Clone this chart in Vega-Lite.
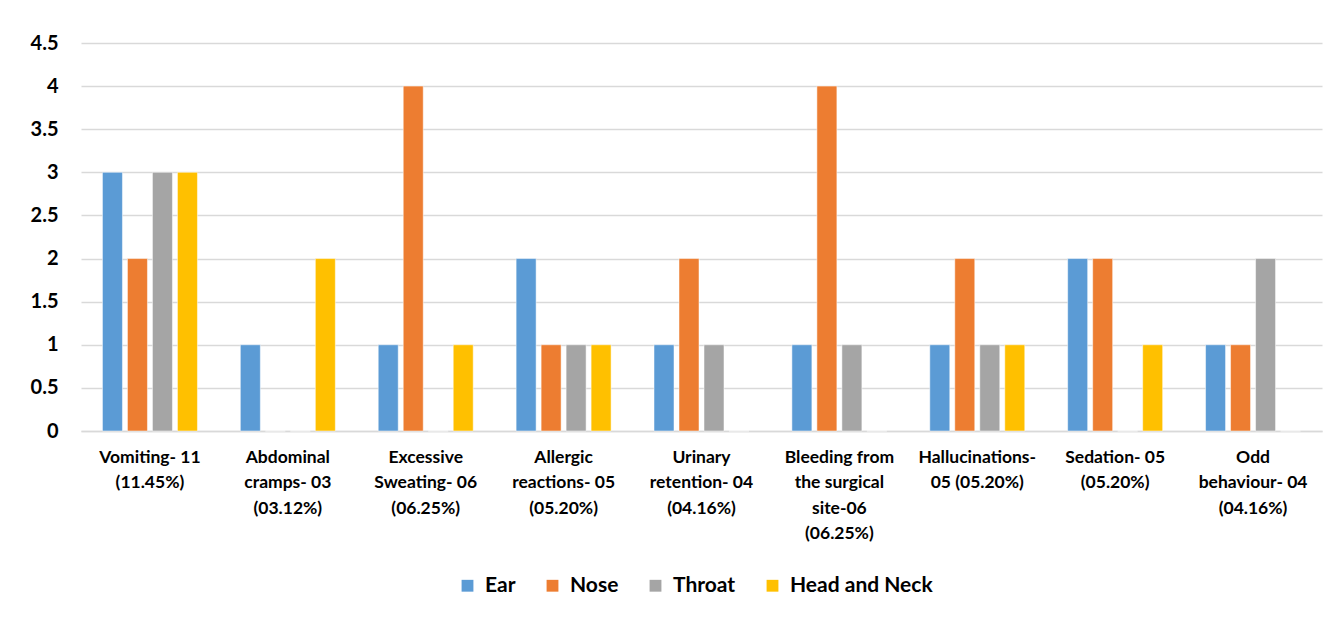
{
  "$schema": "https://vega.github.io/schema/vega-lite/v6.json",
  "autosize": "none",
  "width": 1241,
  "height": 388,
  "padding": {"left": 81, "top": 43, "right": 17, "bottom": 196},
  "background": "white",
  "data": {"values": [
    {"cat": "Vomiting- 11|(11.45%)", "part": "Ear", "n": 3},
    {"cat": "Vomiting- 11|(11.45%)", "part": "Nose", "n": 2},
    {"cat": "Vomiting- 11|(11.45%)", "part": "Throat", "n": 3},
    {"cat": "Vomiting- 11|(11.45%)", "part": "Head and Neck", "n": 3},
    {"cat": "Abdominal|cramps- 03|(03.12%)", "part": "Ear", "n": 1},
    {"cat": "Abdominal|cramps- 03|(03.12%)", "part": "Nose", "n": 0},
    {"cat": "Abdominal|cramps- 03|(03.12%)", "part": "Throat", "n": 0},
    {"cat": "Abdominal|cramps- 03|(03.12%)", "part": "Head and Neck", "n": 2},
    {"cat": "Excessive|Sweating- 06|(06.25%)", "part": "Ear", "n": 1},
    {"cat": "Excessive|Sweating- 06|(06.25%)", "part": "Nose", "n": 4},
    {"cat": "Excessive|Sweating- 06|(06.25%)", "part": "Throat", "n": 0},
    {"cat": "Excessive|Sweating- 06|(06.25%)", "part": "Head and Neck", "n": 1},
    {"cat": "Allergic|reactions- 05|(05.20%)", "part": "Ear", "n": 2},
    {"cat": "Allergic|reactions- 05|(05.20%)", "part": "Nose", "n": 1},
    {"cat": "Allergic|reactions- 05|(05.20%)", "part": "Throat", "n": 1},
    {"cat": "Allergic|reactions- 05|(05.20%)", "part": "Head and Neck", "n": 1},
    {"cat": "Urinary|retention- 04|(04.16%)", "part": "Ear", "n": 1},
    {"cat": "Urinary|retention- 04|(04.16%)", "part": "Nose", "n": 2},
    {"cat": "Urinary|retention- 04|(04.16%)", "part": "Throat", "n": 1},
    {"cat": "Urinary|retention- 04|(04.16%)", "part": "Head and Neck", "n": 0},
    {"cat": "Bleeding from|the surgical|site-06|(06.25%)", "part": "Ear", "n": 1},
    {"cat": "Bleeding from|the surgical|site-06|(06.25%)", "part": "Nose", "n": 4},
    {"cat": "Bleeding from|the surgical|site-06|(06.25%)", "part": "Throat", "n": 1},
    {"cat": "Bleeding from|the surgical|site-06|(06.25%)", "part": "Head and Neck", "n": 0},
    {"cat": "Hallucinations-|05 (05.20%)", "part": "Ear", "n": 1},
    {"cat": "Hallucinations-|05 (05.20%)", "part": "Nose", "n": 2},
    {"cat": "Hallucinations-|05 (05.20%)", "part": "Throat", "n": 1},
    {"cat": "Hallucinations-|05 (05.20%)", "part": "Head and Neck", "n": 1},
    {"cat": "Sedation- 05|(05.20%)", "part": "Ear", "n": 2},
    {"cat": "Sedation- 05|(05.20%)", "part": "Nose", "n": 2},
    {"cat": "Sedation- 05|(05.20%)", "part": "Throat", "n": 0},
    {"cat": "Sedation- 05|(05.20%)", "part": "Head and Neck", "n": 1},
    {"cat": "Odd|behaviour- 04|(04.16%)", "part": "Ear", "n": 1},
    {"cat": "Odd|behaviour- 04|(04.16%)", "part": "Nose", "n": 1},
    {"cat": "Odd|behaviour- 04|(04.16%)", "part": "Throat", "n": 2},
    {"cat": "Odd|behaviour- 04|(04.16%)", "part": "Head and Neck", "n": 0}
  ]},
  "mark": {"type": "bar", "stroke": "white", "strokeWidth": 0.5},
  "encoding": {
    "x": {
      "field": "cat", "type": "nominal", "sort": null, "title": null,
      "scale": {"paddingInner": 0, "paddingOuter": 0},
      "axis": {
        "labelExpr": "split(datum.label, '|')",
        "labelAngle": 0, "labelBaseline": "top", "labelPadding": 17,
        "labelLineHeight": 25.5, "labelFontSize": 17.5, "labelFont": "Lato",
        "labelFontWeight": "bold", "labelColor": "#000000", "labelLimit": 200,
        "ticks": false, "domainColor": "#d9d9d9", "domainWidth": 1.5, "grid": false
      }
    },
    "xOffset": {
      "field": "part", "type": "nominal",
      "sort": ["Ear", "Nose", "Throat", "Head and Neck"],
      "scale": {"paddingInner": 0.2, "paddingOuter": 0.858}
    },
    "y": {
      "field": "n", "type": "quantitative", "title": null,
      "scale": {"domain": [0, 4.5], "nice": false},
      "axis": {
        "values": [0, 0.5, 1, 1.5, 2, 2.5, 3, 3.5, 4, 4.5],
        "labelExpr": "datum.value",
        "labelFontSize": 20, "labelFont": "Lato", "labelFontWeight": "bold",
        "labelColor": "#000000", "labelPadding": 23,
        "ticks": false, "domain": false,
        "gridColor": "#d9d9d9", "gridWidth": 1.5
      }
    },
    "color": {
      "field": "part", "type": "nominal", "title": null,
      "sort": ["Ear", "Nose", "Throat", "Head and Neck"],
      "scale": {"domain": ["Ear", "Nose", "Throat", "Head and Neck"],
                "range": ["#5B9BD5", "#ED7D31", "#A5A5A5", "#FFC000"]},
      "legend": {
        "orient": "none", "direction": "horizontal",
        "legendX": 376, "legendY": 532,
        "symbolType": "square", "symbolSize": 140, "symbolStrokeWidth": 0,
        "labelFontSize": 21, "labelFont": "Lato", "labelFontWeight": "bold",
        "labelColor": "#000000", "columnPadding": 26, "labelOffset": 7
      }
    }
  },
  "config": {"view": {"stroke": null}}
}
